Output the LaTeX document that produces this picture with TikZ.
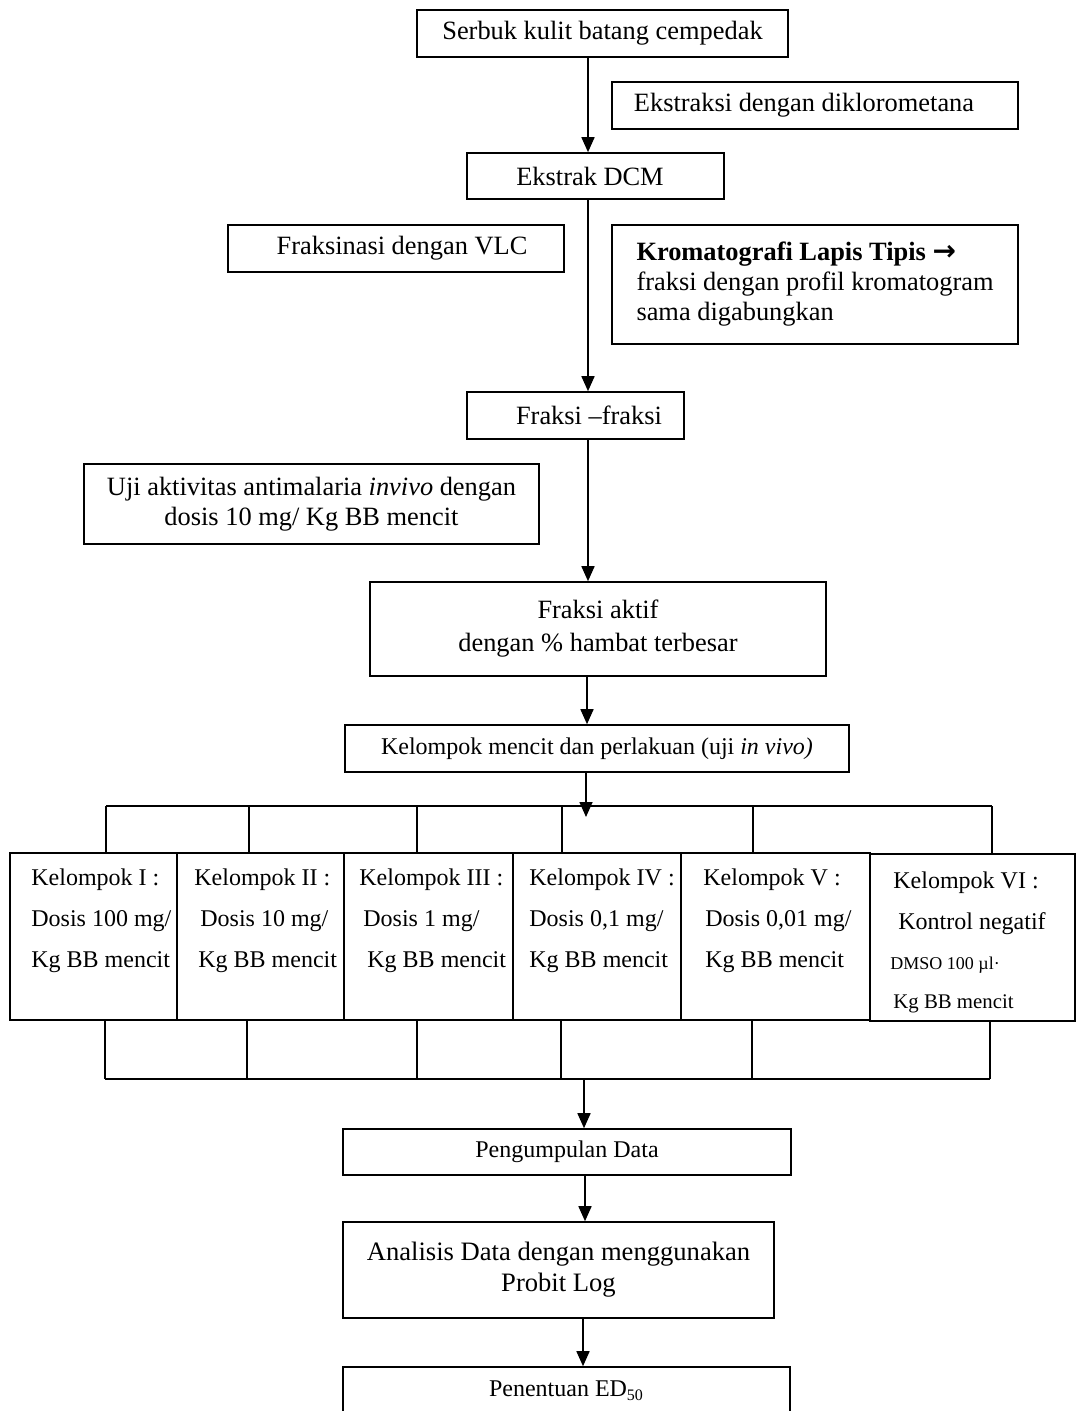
\documentclass[tikz,border=0pt]{standalone}
\usepackage{fontspec}
\setmainfont{Liberation Serif}
\newfontfamily\arrowfont{DejaVu Sans}
\usetikzlibrary{arrows.meta,calc}
\newlength\pxu
\setlength\pxu{0.5pt}
\tikzset{
  box/.style={draw, line width=0.8pt, rectangle, inner sep=0pt, align=center,
    font=\fontsize{13.2}{15}\selectfont},
  smallbox/.style={box, font=\fontsize{12}{14}\selectfont},
  gbox/.style={draw, line width=0.8pt, rectangle, inner sep=0pt, minimum height=167\pxu},
  conn/.style={line width=0.8pt},
  arr/.style={conn, -{Triangle[length=7.5pt,width=6.5pt]}},
  gtext/.style={anchor=base west, inner sep=0pt, font=\fontsize{12}{14}\selectfont},
}
\begin{document}
\begin{tikzpicture}[x=0.5pt,y=-0.5pt]
\useasboundingbox (0,0) rectangle (1075,1411);

% main boxes
\node[box, minimum width=371\pxu, minimum height=47\pxu] (b1) at (602.5,33.5) {\raisebox{-1pt}{Serbuk kulit batang cempedak}};
\node[box, minimum width=406\pxu, minimum height=47\pxu] (b2) at (815,105.5) {\raisebox{-1pt}{Ekstraksi dengan diklorometana}\hspace*{22\pxu}};
\node[box, minimum width=257\pxu, minimum height=46\pxu] (b3) at (595.5,176) {\raisebox{-1pt}{Ekstrak DCM}\hspace*{11\pxu}};
\node[box, minimum width=336\pxu, minimum height=47\pxu] (b4) at (396,248.5) {\hspace*{12\pxu}\raisebox{-1pt}{Fraksinasi dengan VLC}};
\node[box, minimum width=406\pxu, minimum height=119\pxu, align=left] (b5) at (815,284.5)
  {\textbf{Kromatografi Lapis Tipis} {\arrowfont\bfseries\fontsize{14}{15}\selectfont →}\\fraksi dengan profil kromatogram\\sama digabungkan};
\node[box, minimum width=217\pxu, minimum height=47\pxu] (b6) at (575.5,415.5) {\hspace*{27\pxu}\raisebox{-1pt}{Fraksi --fraksi}};
\node[box, minimum width=455\pxu, minimum height=80\pxu] (b7) at (311.5,504)
  {Uji aktivitas antimalaria \textit{invivo} dengan\\dosis 10 mg/ Kg BB mencit};
\node[box, minimum width=456\pxu, minimum height=94\pxu, font=\fontsize{13.2}{16.5}\selectfont] (b8) at (598,629)
  {Fraksi aktif\\dengan \% hambat terbesar};
\node[smallbox, minimum width=504\pxu, minimum height=47\pxu] (b9) at (597,748.5)
  {\raisebox{-1pt}{Kelompok mencit dan perlakuan (uji \textit{in vivo)}}};

% group boxes
\node[gbox, minimum width=167\pxu] (g1) at (93.5,936.5) {};
\node[gbox, minimum width=167\pxu] (g2) at (260.5,936.5) {};
\node[gbox, minimum width=169\pxu] (g3) at (428.5,936.5) {};
\node[gbox, minimum width=168\pxu] (g4) at (597,936.5) {};
\node[gbox, minimum width=189\pxu] (g5) at (775.5,936.5) {};
\node[gbox, minimum width=205\pxu] (g6) at (972.5,937.5) {};

\node[gtext] (g1a) at (31,885) {Kelompok I :};
\node[gtext] (g1b) at (31,926) {Dosis 100 mg/};
\node[gtext] (g1c) at (31,967) {Kg BB mencit};
\node[gtext] (g2a) at (194,885) {Kelompok II :};
\node[gtext] (g2b) at (200,926) {Dosis 10 mg/};
\node[gtext] (g2c) at (198,967) {Kg BB mencit};
\node[gtext] (g3a) at (359,885) {Kelompok III :};
\node[gtext] (g3b) at (363,926) {Dosis 1 mg/};
\node[gtext] (g3c) at (367,967) {Kg BB mencit};
\node[gtext] (g4a) at (529,885) {Kelompok IV :};
\node[gtext] (g4b) at (529,926) {Dosis 0,1 mg/};
\node[gtext] (g4c) at (529,967) {Kg BB mencit};
\node[gtext] (g5a) at (703,885) {Kelompok V :};
\node[gtext] (g5b) at (705,926) {Dosis 0,01 mg/};
\node[gtext] (g5c) at (705,967) {Kg BB mencit};
\node[gtext] (g6a) at (893,888) {Kelompok VI :};
\node[gtext] (g6b) at (898,929) {Kontrol negatif};
\node[gtext, font=\fontsize{9}{11}\selectfont] (g6c) at (890,969) {DMSO 100 µl·};
\node[gtext, font=\fontsize{10.4}{12}\selectfont] (g6d) at (893,1008) {Kg BB mencit};

% lower boxes
\node[smallbox, minimum width=448\pxu, minimum height=46\pxu] (b10) at (567,1152) {\raisebox{-1pt}{Pengumpulan Data}};
\node[box, minimum width=431\pxu, minimum height=96\pxu, font=\fontsize{13.3}{15.5}\selectfont] (b11) at (558.5,1270)
  {Analisis Data dengan menggunakan\\Probit Log};
\node[smallbox, minimum width=447\pxu, minimum height=48\pxu] (b12) at (566.5,1391) {\raisebox{-1pt}{Penentuan ED\textsubscript{50}}};

% connectors
\coordinate (ca) at (588,0);
\coordinate (cb) at (587,0);
\draw[arr] (b1.south -| ca) -- (b3.north -| ca);
\draw[arr] (b3.south -| ca) -- (b6.north -| ca);
\draw[arr] (b6.south -| ca) -- (b8.north -| ca);
\draw[arr] (b8.south -| cb) -- (b9.north -| cb);
\coordinate (tipA) at (586,817);
\draw[arr] (b9.south -| tipA) -- (tipA);

% top bracket
\coordinate (t1) at (106,806);
\coordinate (t2) at (249,806);
\coordinate (t3) at (417,806);
\coordinate (t4) at (562,806);
\coordinate (t5) at (753,806);
\coordinate (t6) at (992,806);
\draw[conn] (t1) -- (t6);
\draw[conn] (t1) -- (t1 |- g1.north);
\draw[conn] (t2) -- (t2 |- g2.north);
\draw[conn] (t3) -- (t3 |- g3.north);
\draw[conn] (t4) -- (t4 |- g4.north);
\draw[conn] (t5) -- (t5 |- g5.north);
\draw[conn] (t6) -- (t6 |- g6.north);

% bottom bracket
\coordinate (u1) at (105,1079);
\coordinate (u2) at (247,1079);
\coordinate (u3) at (417,1079);
\coordinate (u4) at (561,1079);
\coordinate (u5) at (752,1079);
\coordinate (u6) at (990,1079);
\draw[conn] (u1) -- (u6);
\draw[conn] (u1 |- g1.south) -- (u1);
\draw[conn] (u2 |- g2.south) -- (u2);
\draw[conn] (u3 |- g3.south) -- (u3);
\draw[conn] (u4 |- g4.south) -- (u4);
\draw[conn] (u5 |- g5.south) -- (u5);
\draw[conn] (u6 |- g6.south) -- (u6);

\coordinate (cc) at (584,1079);
\coordinate (cd) at (585,0);
\coordinate (ce) at (583,0);
\draw[arr] (cc) -- (b10.north -| cc);
\draw[arr] (b10.south -| cd) -- (b11.north -| cd);
\draw[arr] (b11.south -| ce) -- (b12.north -| ce);
\end{tikzpicture}
\end{document}
